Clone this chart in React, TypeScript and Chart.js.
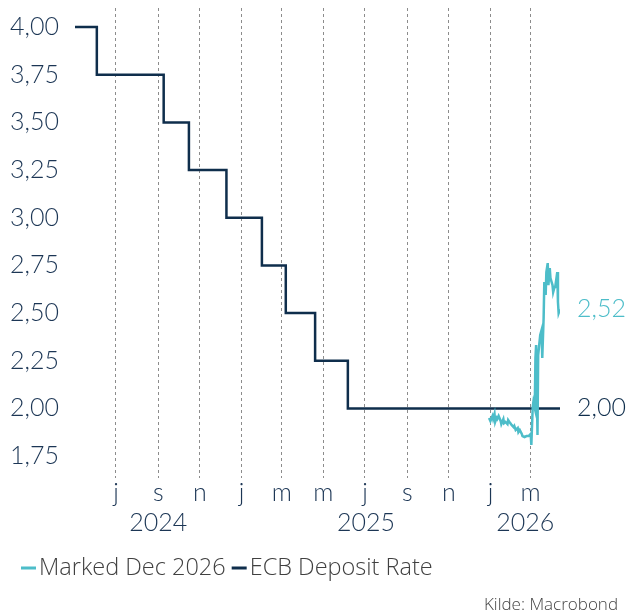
import React, { useEffect, useRef } from 'react';
import { Chart, registerables } from 'chart.js';

Chart.register(...registerables);

const DAY_MS = 86400000;
const toDay = (s: string) => Date.parse(s + 'T00:00:00Z') / DAY_MS;

// ECB deposit rate: date the new rate appears, and the rate
const ecbDates = ['2024-05-02', '2024-06-03', '2024-09-09', '2024-10-16', '2024-12-10', '2025-01-31', '2025-03-07', '2025-04-19', '2025-06-06', '2026-04-13'];
const ecbRates = [4.0, 3.75, 3.5, 3.25, 3.0, 2.75, 2.5, 2.25, 2.0, 2.0];

// Market pricing for Dec 2026: days after 2026-01-01, and value
const marketStart = '2026-01-01';
const marketOffsets = [-2, 0, 3, 4, 6, 7, 9, 10, 12, 15, 16, 19, 20, 22, 25, 26, 29, 31, 34, 35, 37, 40, 41, 43, 46, 47, 50, 53, 56, 59, 60, 62, 63, 65, 66, 67, 69, 70, 73, 75, 76, 78, 79, 81, 82, 84, 85, 87, 88, 91, 92, 94, 95, 98, 99, 100, 102];
const marketValues = [1.95, 1.934, 1.96, 1.944, 1.971, 1.929, 1.95, 1.944, 1.96, 1.934, 1.918, 1.944, 1.923, 1.929, 1.918, 1.939, 1.923, 1.913, 1.902, 1.908, 1.887, 1.897, 1.876, 1.887, 1.866, 1.855, 1.85, 1.855, 1.855, 1.866, 1.808, 2.007, 2.034, 2.002, 2.264, 2.332, 1.86, 2.28, 2.385, 2.411, 2.264, 2.474, 2.663, 2.595, 2.715, 2.762, 2.647, 2.736, 2.684, 2.647, 2.61, 2.637, 2.637, 2.715, 2.558, 2.5, 2.52];

const monthTickDates = ['2024-07-01', '2024-09-01', '2024-11-01', '2025-01-01', '2025-03-01', '2025-05-01', '2025-07-01', '2025-09-01', '2025-11-01', '2026-01-01', '2026-03-01'];
const monthTickLabels = ['j', 's', 'n', 'j', 'm', 'm', 'j', 's', 'n', 'j', 'm'];
const yearLabels = ['2024', '2025', '2026'];
const yTicks = [1.75, 2.0, 2.25, 2.5, 2.75, 3.0, 3.25, 3.5, 3.75, 4.0];

const seriesNames = ['Marked Dec 2026', 'ECB Deposit Rate'];
const sourceText = 'Kilde: Macrobond';

const TEAL = '#4dbdc9';
const NAVY = '#0f2e4c';
const AXIS_TEXT = '#1c3655';
const AXIS_FONT = 'Lato';
const LEGEND_FONT = "'Open Sans'";

const fmt = (v: number) => v.toFixed(2).replace('.', ',');

export default function App() {
  const ref = useRef<HTMLCanvasElement | null>(null);

  useEffect(() => {
    document.body.style.margin = '0';
    const canvas = ref.current;
    if (!canvas) return;

    const ecbData = ecbDates.map((d, i) => ({ x: toDay(d), y: ecbRates[i] }));
    const m0 = toDay(marketStart);
    const marketData = marketOffsets.map((o, i) => ({ x: m0 + o, y: marketValues[i] }));
    const tickDays = monthTickDates.map(toDay);
    const xMin = toDay(ecbDates[0]);
    const xMax = toDay(ecbDates[ecbDates.length - 1]);

    const extras = {
      id: 'extras',
      afterDraw(chart: any) {
        const { ctx, chartArea, scales } = chart;
        const xs = scales.x;
        const ys = scales.y;
        ctx.save();
        // end labels
        ctx.font = `300 25px ${AXIS_FONT}`;
        ctx.textAlign = 'left';
        ctx.textBaseline = 'middle';
        const lastM = marketValues[marketValues.length - 1];
        const lastE = ecbRates[ecbRates.length - 1];
        ctx.fillStyle = TEAL;
        ctx.fillText(fmt(lastM), chartArea.right + 17, ys.getPixelForValue(lastM));
        ctx.fillStyle = NAVY;
        ctx.fillText(fmt(lastE), chartArea.right + 17, ys.getPixelForValue(lastE));

        // year labels centred on the visible part of each year
        ctx.textAlign = 'center';
        ctx.fillStyle = AXIS_TEXT;
        yearLabels.forEach((yl) => {
          const s = Math.max(toDay(yl + '-01-01'), xs.min);
          const e = Math.min(toDay(String(Number(yl) + 1) + '-01-01'), xs.max);
          const cx = (xs.getPixelForValue(s) + xs.getPixelForValue(e)) / 2;
          ctx.fillText(yl, cx, 523);
        });

        // legend
        ctx.font = `300 23.5px ${LEGEND_FONT}`;
        ctx.textAlign = 'left';
        let lx = 21;
        const ly = 568;
        const colors = [TEAL, NAVY];
        seriesNames.forEach((name, i) => {
          ctx.fillStyle = colors[i];
          ctx.fillRect(lx, ly - 1.5, 15, 3);
          lx += 18;
          ctx.fillStyle = '#404040';
          ctx.fillText(name, lx, ly);
          lx += ctx.measureText(name).width + 6;
        });

        // source
        ctx.font = `300 17px ${LEGEND_FONT}`;
        ctx.textAlign = 'right';
        ctx.fillStyle = '#444444';
        ctx.fillText(sourceText, 618, 605);
        ctx.restore();
      },
    };

    const chart = new Chart(canvas, {
      type: 'line',
      data: {
        datasets: [
          {
            label: seriesNames[0],
            data: marketData,
            borderColor: TEAL,
            backgroundColor: TEAL,
            borderWidth: 2.5,
            pointRadius: 0,
            tension: 0,
          },
          {
            label: seriesNames[1],
            data: ecbData,
            borderColor: NAVY,
            backgroundColor: NAVY,
            borderWidth: 2.5,
            pointRadius: 0,
            stepped: true,
          },
        ],
      },
      options: {
        responsive: false,
        animation: false,
        devicePixelRatio: 1,
        layout: { padding: { top: 8, right: 71, left: 0, bottom: 0 } },
        plugins: { legend: { display: false }, tooltip: { enabled: false } },
        scales: {
          x: {
            type: 'linear',
            min: xMin,
            max: xMax,
            afterFit: (s: any) => {
              s.height = 136;
              s.paddingLeft = 0;
              s.paddingRight = 0;
            },
            afterBuildTicks: (s: any) => {
              s.ticks = tickDays.map((v) => ({ value: v }));
            },
            grid: { display: true, color: '#8c8c8c', lineWidth: 1, drawTicks: false },
            border: { display: false, dash: [3, 3] },
            ticks: {
              autoSkip: false,
              maxRotation: 0,
              padding: 0,
              color: AXIS_TEXT,
              font: { family: AXIS_FONT, size: 25, weight: '300' },
              callback: (v: any) => {
                const i = tickDays.indexOf(Number(v));
                return i >= 0 ? monthTickLabels[i] : '';
              },
            },
          },
          y: {
            type: 'linear',
            min: 1.635,
            max: 4.1,
            afterFit: (s: any) => {
              s.width = 75;
              s.paddingTop = 0;
              s.paddingBottom = 0;
            },
            afterBuildTicks: (s: any) => {
              s.ticks = yTicks.map((v) => ({ value: v }));
            },
            grid: { display: false },
            border: { display: false },
            ticks: {
              padding: 8,
              color: AXIS_TEXT,
              font: { family: AXIS_FONT, size: 25, weight: '300' },
              callback: (v: any) => fmt(Number(v)),
            },
          },
        },
      },
      plugins: [extras],
    });
    return () => chart.destroy();
  }, []);

  return (
    <div style={{ width: 631, height: 614 }}>
      <canvas ref={ref} width={631} height={614} style={{ display: 'block', width: 631, height: 614 }} />
    </div>
  );
}
